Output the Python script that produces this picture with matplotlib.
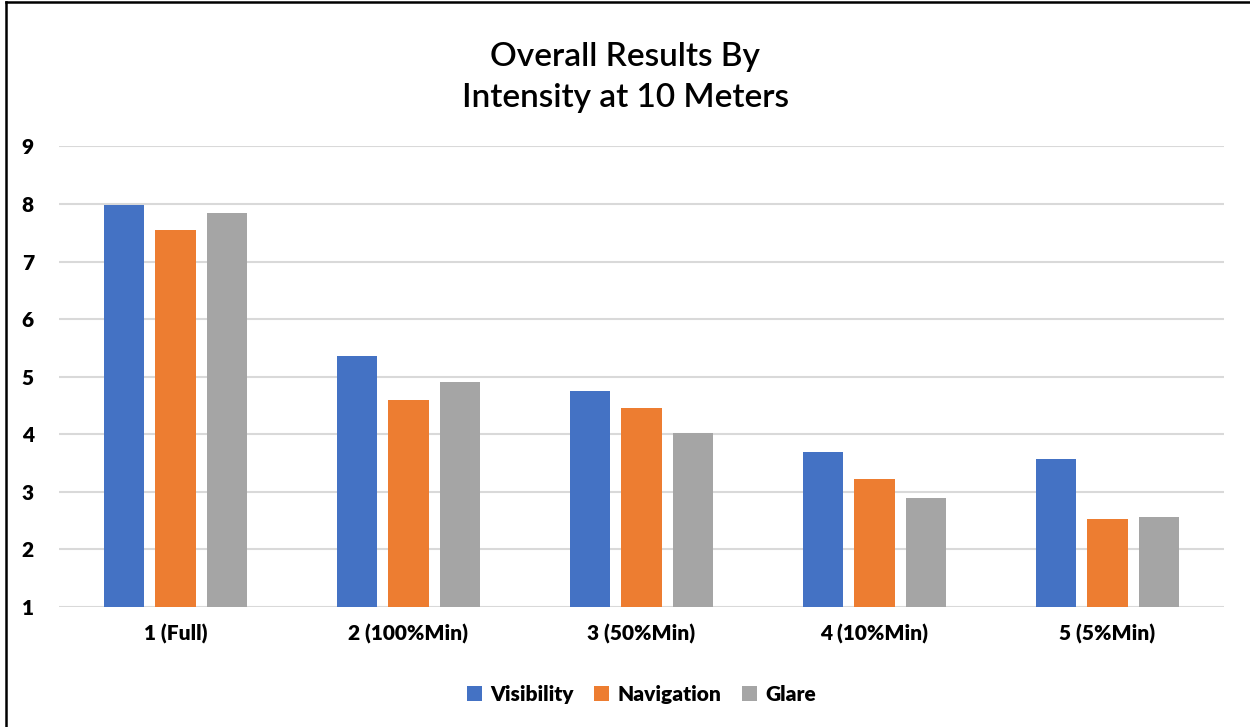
import numpy as np
import matplotlib
matplotlib.use("Agg")
import matplotlib.pyplot as plt
from matplotlib.lines import Line2D

plt.rcParams['font.family'] = ['Lato', 'DejaVu Sans']

categories = ["1 (Full)", "2 (100%Min)", "3 (50%Min)", "4 (10%Min)", "5 (5%Min)"]
series_names = ["Visibility", "Navigation", "Glare"]
visibility = [7.98, 5.36, 4.76, 3.70, 3.58]
navigation = [7.55, 4.59, 4.46, 3.22, 2.53]
glare = [7.84, 4.91, 4.03, 2.90, 2.56]
colors = ["#4472c4", "#ed7d31", "#a5a5a5"]
y_ticks = [1, 2, 3, 4, 5, 6, 7, 8, 9]

fig = plt.figure(figsize=(12.5, 7.27), dpi=100)
ax = fig.add_axes([0.0472, 0.165, 0.932, 0.6335])

x = np.arange(len(categories))
width = 0.172
step = 0.223
for i, (vals, name) in enumerate(zip([visibility, navigation, glare], series_names)):
    ax.bar(x + (i - 1) * step, np.array(vals) - 1, width, bottom=1,
           color=colors[i], label=name, zorder=3)

ax.set_xlim(-0.5, len(categories) - 0.5)
ax.set_ylim(1, 9)
ax.set_yticks(y_ticks)
ax.set_yticklabels([str(t) for t in y_ticks], fontsize=15, fontweight='heavy')
ax.set_xticks(x)
ax.set_xticklabels(categories, fontsize=15, fontweight='heavy')
ax.tick_params(length=0, pad=18, axis='y')
ax.tick_params(length=0, pad=12, axis='x')
ax.yaxis.grid(True, color="#d9d9d9", linewidth=1.5, zorder=0)
ax.set_axisbelow(True)
for s in ax.spines.values():
    s.set_visible(False)

fig.text(0.5, 0.893, "Overall Results By\nIntensity at 10 Meters", ha='center', va='center',
         fontsize=24, fontweight='semibold', linespacing=1.45)

ax.legend(loc='center', bbox_to_anchor=(0.5, -0.19), ncol=3, frameon=False,
          prop={'size': 15, 'weight': 'heavy'}, handlelength=0.7, handleheight=0.7,
          columnspacing=1.0, handletextpad=0.4)

# outer frame
fig.add_artist(Line2D([0.005, 0.005], [0, 0.997], color='black', linewidth=1.8, transform=fig.transFigure))
fig.add_artist(Line2D([0.005, 1.0], [0.997, 0.997], color='black', linewidth=1.8, transform=fig.transFigure))

fig.savefig("out.png", dpi=100)
